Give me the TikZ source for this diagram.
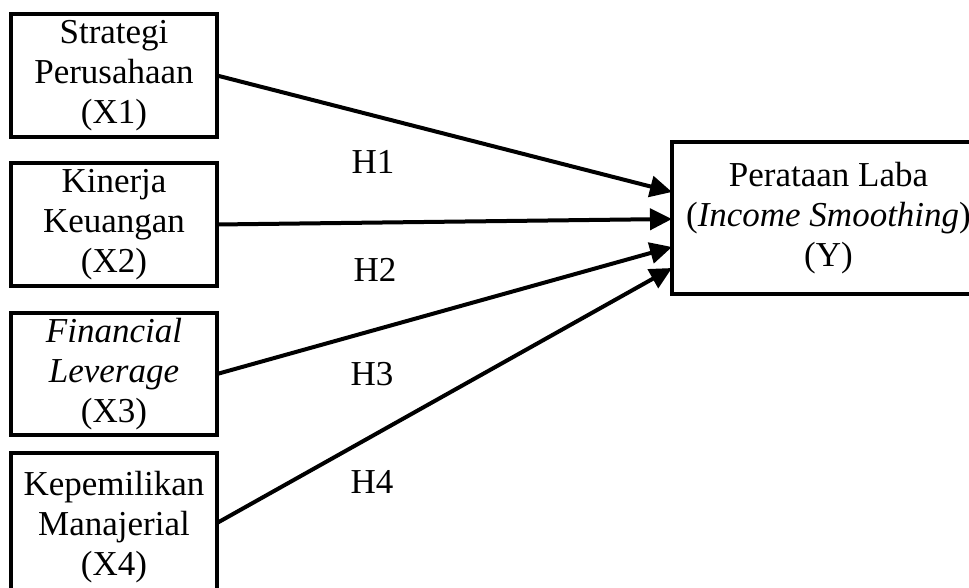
\documentclass[tikz,border=0pt]{standalone}
\usepackage{fontspec}
\setmainfont{Liberation Serif}
\usetikzlibrary{arrows.meta}
\tikzset{
  varbox/.style={draw, line width=3.5pt, outer sep=0pt, align=center, inner sep=0pt,
    font=\fontsize{35}{40}\selectfont},
  conn/.style={line width=4pt, -{Triangle[length=22pt,width=21pt]}},
  hlabel/.style={font=\fontsize{35}{40}\selectfont, inner sep=0pt}
}
\begin{document}
\begin{tikzpicture}[x=1pt,y=-1pt]
\useasboundingbox (0,0) rectangle (969,588);
\clip (0,0) rectangle (969,588);
\node[varbox, minimum width=206pt, minimum height=123pt] (x1) at (114,75.5) {Strategi\\Perusahaan\\(X1)};
\node[varbox, minimum width=206pt, minimum height=123pt] (x2) at (114,224.5) {Kinerja\\Keuangan\\(X2)};
\node[varbox, minimum width=206pt, minimum height=122pt] (x3) at (114,374) {\textit{Financial}\\\textit{Leverage}\\(X3)};
\node[varbox, minimum width=206pt, minimum height=148pt] (x4) at (114,527) {Kepemilikan\\Manajerial\\(X4)};
\node[varbox, minimum width=313pt, minimum height=152pt] (y) at (828.5,218) {Perataan Laba\\(\textit{Income Smoothing})\\(Y)};
\draw[conn] (x1.east) -- ([yshift=26pt]y.west);
\draw[conn] (x2.east) -- ([yshift=-1pt]y.west);
\draw[conn] (x3.east) -- ([yshift=-29pt]y.west);
\draw[conn] ([yshift=4pt]x4.east) -- ([yshift=-50pt]y.west);
\node[hlabel] (h1) at (373,162) {H1};
\node[hlabel] (h2) at (375,270) {H2};
\node[hlabel] (h3) at (372,374) {H3};
\node[hlabel] (h4) at (372,482) {H4};
\end{tikzpicture}
\end{document}
